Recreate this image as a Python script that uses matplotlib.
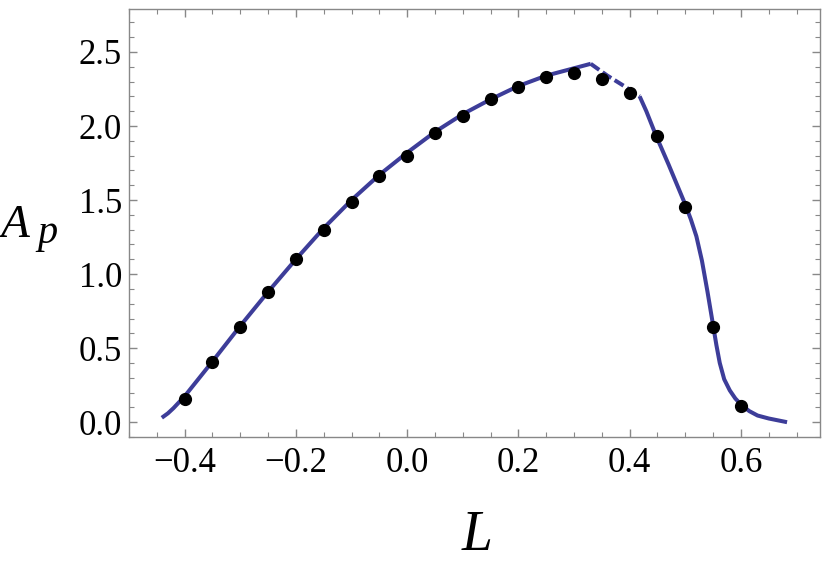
import matplotlib
matplotlib.use("Agg")
import matplotlib.pyplot as plt
from matplotlib.ticker import MultipleLocator, FuncFormatter

plt.rcParams['font.family'] = ['Liberation Serif', 'DejaVu Serif']
plt.rcParams['mathtext.fontset'] = 'stix'

# Data points (black dots)
pts_L = [-0.40, -0.35, -0.30, -0.25, -0.20, -0.15, -0.10, -0.05, 0.00, 0.05,
         0.10, 0.15, 0.20, 0.25, 0.30, 0.35, 0.40, 0.45, 0.50, 0.55, 0.60]
pts_A = [0.155, 0.405, 0.64, 0.88, 1.10, 1.30, 1.49, 1.66, 1.80, 1.95,
         2.07, 2.18, 2.26, 2.33, 2.36, 2.32, 2.22, 1.93, 1.45, 0.64, 0.11]

# Curve (solid, rising branch)
curve1_L = [-0.441, -0.43, -0.42, -0.40, -0.35, -0.30, -0.25, -0.20, -0.15, -0.10, -0.05,
            0.00, 0.05, 0.10, 0.15, 0.20, 0.25, 0.30, 0.33]
curve1_A = [0.03, 0.06, 0.095, 0.175, 0.41, 0.65, 0.88, 1.10, 1.31, 1.50, 1.67,
            1.82, 1.96, 2.08, 2.18, 2.27, 2.34, 2.39, 2.42]
# Curve (dashed section near the peak)
curve2_L = [0.33, 0.36, 0.39, 0.418]
curve2_A = [2.42, 2.34, 2.27, 2.20]
# Curve (solid, falling branch)
curve3_L = [0.418, 0.43, 0.448, 0.47, 0.49, 0.50, 0.51, 0.52, 0.53, 0.54, 0.55,
            0.556, 0.562, 0.570, 0.580, 0.590, 0.600, 0.615, 0.630, 0.650, 0.683]
curve3_A = [2.20, 2.10, 1.93, 1.74, 1.56, 1.47, 1.37, 1.255, 1.09, 0.88, 0.655,
            0.52, 0.40, 0.29, 0.215, 0.16, 0.12, 0.075, 0.045, 0.025, 0.0]

line_color = '#3d3d99'

fig = plt.figure(figsize=(8.29, 5.63), dpi=100)
ax = fig.add_axes([0.1556, 0.2238, 0.989 - 0.1556, 0.984 - 0.2238])

ax.plot(curve1_L, curve1_A, color=line_color, lw=2.9, solid_capstyle='butt',
        solid_joinstyle='round', zorder=2)
ax.plot(curve2_L, curve2_A, color=line_color, lw=2.9, ls=(0, (2.6, 1.0)), zorder=2)
ax.plot(curve3_L, curve3_A, color=line_color, lw=2.9, solid_capstyle='butt',
        solid_joinstyle='round', zorder=2)
ax.plot(pts_L, pts_A, 'o', color='black', ms=8.5, zorder=3)

ax.set_xlim(-0.5, 0.742)
ax.set_ylim(-0.1, 2.79)

ax.xaxis.set_major_locator(MultipleLocator(0.2))
ax.xaxis.set_minor_locator(MultipleLocator(0.05))
ax.yaxis.set_major_locator(MultipleLocator(0.5))
ax.yaxis.set_minor_locator(MultipleLocator(0.1))

def fmt(v, pos):
    s = f"{v:.1f}"
    if s == "-0.0":
        s = "0.0"
    return s.replace('-', '\u2212')

ax.xaxis.set_major_formatter(FuncFormatter(fmt))
ax.yaxis.set_major_formatter(FuncFormatter(fmt))

frame_color = '#888888'
for sp in ax.spines.values():
    sp.set_color(frame_color)
    sp.set_linewidth(1.0)

ax.tick_params(which='both', direction='in', top=True, right=True, color=frame_color,
               labelsize=25, labelcolor='black')
ax.tick_params(which='major', length=6, width=1.0)
ax.tick_params(which='minor', length=3.5, width=0.8)
ax.tick_params(axis='x', which='major', pad=7)
ax.tick_params(axis='y', which='major', pad=5)

# Axis labels
fig.text(477 / 829, 1 - 550 / 563, 'L', fontsize=40, style='italic',
         ha='center', va='baseline')
fig.text(1 / 829, 1 - 237 / 563, 'A', fontsize=34, style='italic',
         ha='left', va='baseline')
fig.text(37 / 829, 1 - 243 / 563, 'p', fontsize=29, style='italic',
         ha='left', va='baseline')

fig.savefig('out.png', dpi=100)
